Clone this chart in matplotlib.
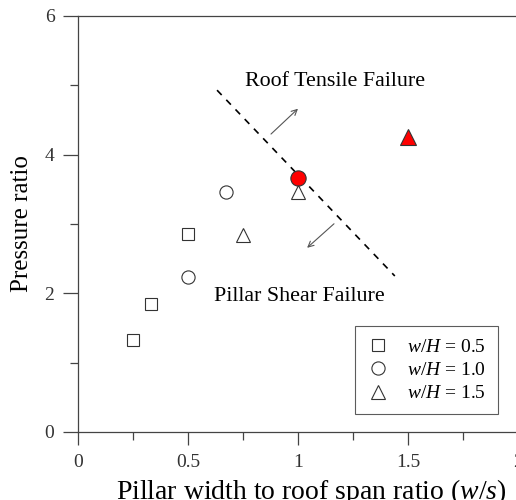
import matplotlib
matplotlib.use("Agg")
import matplotlib.pyplot as plt
from matplotlib.ticker import MultipleLocator, FuncFormatter

plt.rcParams["font.family"] = ["Liberation Serif", "DejaVu Serif"]
plt.rcParams["mathtext.fontset"] = "custom"
plt.rcParams["mathtext.rm"] = "Liberation Serif"
plt.rcParams["mathtext.it"] = "Liberation Serif:italic"

# data
sq_x = [0.25, 0.333, 0.5]
sq_y = [1.32, 1.85, 2.86]
ci_x = [0.5, 0.673]
ci_y = [2.24, 3.46]
tr_x = [0.75, 1.0]
tr_y = [2.84, 3.46]
red_ci_x, red_ci_y = [1.0], [3.67]
red_tr_x, red_tr_y = [1.5], [4.25]
line_x = [0.632, 1.44]
line_y = [4.93, 2.25]

GRAY = "#444444"

fig = plt.figure(figsize=(5.16, 5.0), dpi=100)
ax = fig.add_axes([0.1512, 0.136, 0.8527, 0.832])

ax.plot(line_x, line_y, ls=(0, (4, 4)), color="black", lw=1.2, zorder=1)

ax.plot(sq_x, sq_y, "s", ms=9, mfc="white", mec="#333333", mew=0.8, ls="none",
        label="$w/H$ = 0.5", zorder=3)
ax.plot(ci_x, ci_y, "o", ms=9.5, mfc="white", mec="#333333", mew=0.8, ls="none",
        label="$w/H$ = 1.0", zorder=3)
ax.plot(tr_x, tr_y, "^", ms=9.5, mfc="white", mec="#333333", mew=0.8, ls="none",
        label="$w/H$ = 1.5", zorder=3)
ax.plot(red_ci_x, red_ci_y, "o", ms=11, mfc="red", mec="#333333", mew=0.8, zorder=2)
ax.plot(red_tr_x, red_tr_y, "^", ms=11, mfc="red", mec="#333333", mew=0.8, zorder=3)

# region arrows
arw = dict(arrowstyle="->", color="#555555", lw=0.8)
ax.annotate("", xy=(1.009, 4.69), xytext=(0.868, 4.27), arrowprops=arw)
ax.annotate("", xy=(1.032, 2.63), xytext=(1.173, 3.03), arrowprops=arw)

ax.text(1.168, 5.06, "Roof Tensile Failure", fontsize=15.8, ha="center", va="center")
ax.text(1.005, 1.95, "Pillar Shear Failure", fontsize=15.8, ha="center", va="center")

ax.set_xlim(0, 2)
ax.set_ylim(0, 6)
ax.xaxis.set_major_locator(MultipleLocator(0.5))
ax.xaxis.set_minor_locator(MultipleLocator(0.25))
ax.yaxis.set_major_locator(MultipleLocator(2))
ax.yaxis.set_minor_locator(MultipleLocator(1))
ax.xaxis.set_major_formatter(FuncFormatter(lambda v, p: f"{v:g}"))
ax.yaxis.set_major_formatter(FuncFormatter(lambda v, p: f"{v:g}"))
ax.tick_params(axis="both", which="major", direction="out", colors=GRAY,
               labelcolor="#333333", labelsize=14, width=0.9)
ax.tick_params(axis="x", which="major", length=9.5, pad=6)
ax.tick_params(axis="y", which="major", length=11, pad=6)
ax.tick_params(axis="both", which="minor", direction="out", colors=GRAY,
               length=5.5, width=0.9)
for s in ax.spines.values():
    s.set_color(GRAY)
    s.set_linewidth(0.9)

ax.set_xlabel("Pillar width to roof span ratio ($w/s$)", fontsize=20)
ax.set_ylabel("Pressure ratio", fontsize=18)
ax.xaxis.set_label_coords(0.531, -0.108)
ax.yaxis.set_label_coords(-0.102, 0.5)

leg = ax.legend(loc="lower right", bbox_to_anchor=(0.9545, 0.043), fontsize=14,
                frameon=True, fancybox=False, edgecolor="#333333",
                handletextpad=0.9, borderpad=0.6, labelspacing=0.3,
                handlelength=1.2, borderaxespad=0)
leg.get_frame().set_linewidth(0.8)

fig.savefig("out.png", dpi=100)
